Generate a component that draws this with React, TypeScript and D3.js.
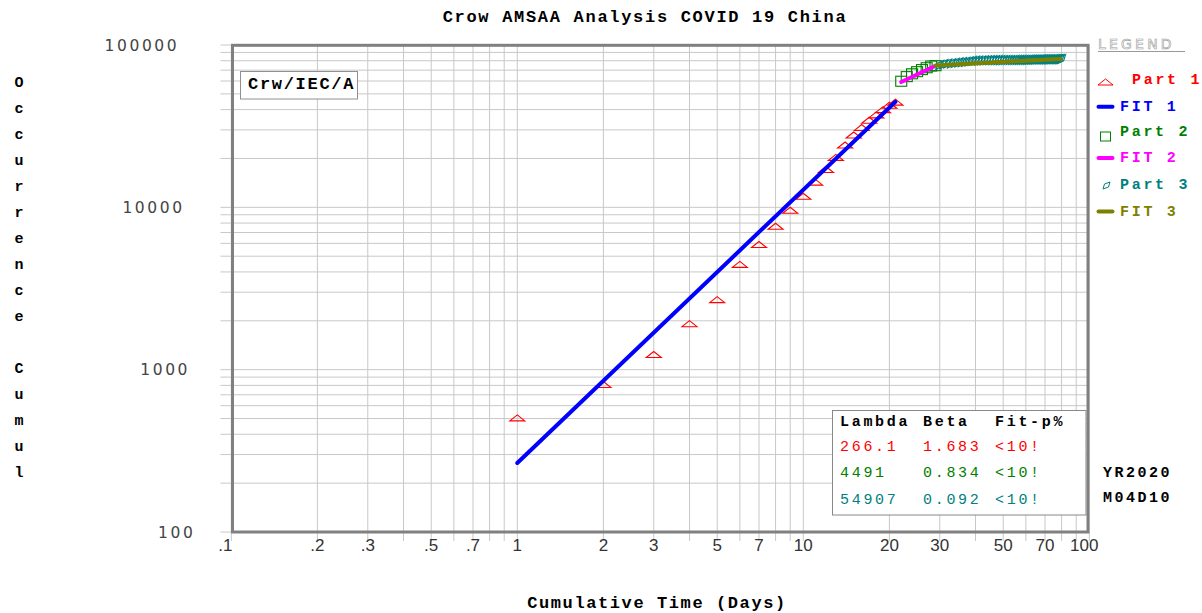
import React from "react";
import * as d3 from "d3";

// ---------- data ----------
const part1Days = [1, 2, 3, 4, 5, 6, 7, 8, 9, 10, 11, 12, 13, 14, 15, 16, 17, 18, 19, 20, 21];
const part1Values = [505, 810, 1240, 1920, 2700, 4450, 5900, 7650, 9600, 11700, 14300, 17100, 20300, 24200, 27900, 31000, 34400, 37100, 40000, 42500, 44500];

const part2Days = [22, 23, 24, 25, 26, 27, 28, 29];
const part2Values = [59800, 63850, 66490, 68500, 70550, 72440, 74190, 74580];

const part3Days = [
  30, 31, 32, 33, 34, 35, 36, 37, 38, 39, 40, 41, 42, 43, 44, 45, 46, 47, 48, 49,
  50, 51, 52, 53, 54, 55, 56, 57, 58, 59, 60, 61, 62, 63, 64, 65, 66, 67, 68, 69,
  70, 71, 72, 73, 74, 75, 76, 77, 78, 79, 80,
];
const part3Values = [
  75470, 76290, 76940, 77150, 77660, 78060, 78500, 78820, 79250, 79820,
  80030, 80150, 80270, 80410, 80550, 80650, 80700, 80740, 80750, 80780,
  80790, 80810, 80820, 80840, 80860, 80880, 80890, 80930, 80970, 81010,
  81050, 81090, 81170, 81220, 81290, 81340, 81390, 81440, 81470, 81520,
  81550, 81590, 81620, 81640, 81670, 81710, 81740, 81800, 81870, 81910, 81950,
];

// Crow-AMSAA fit parameters (from the table) and fitted ranges
const fitNames = ["FIT 1", "FIT 2", "FIT 3"];
const fitLambda = [266.1, 4491, 54907];
const fitBeta = [1.683, 0.834, 0.092];
const fitStart = [1, 22, 29];
const fitEnd = [21, 29, 79.5];
const fitPct = ["<10!", "<10!", "<10!"];
const lambdaLabels = ["266.1", "4491", "54907"];
const betaLabels = ["1.683", "0.834", "0.092"];

const xTickValues = [0.1, 0.2, 0.3, 0.5, 0.7, 1, 2, 3, 5, 7, 10, 20, 30, 50, 70, 100];
const xTickLabels = [".1", ".2", ".3", ".5", ".7", "1", "2", "3", "5", "7", "10", "20", "30", "50", "70", "100"];
const yTickValues = [100, 1000, 10000, 100000];
const yTickLabels = ["100", "1000", "10000", "100000"];

const title = "Crow AMSAA Analysis COVID 19 China";
const xTitle = "Cumulative Time (Days)";
const yTitle = "Occurrence Cumul";

// ---------- styling ----------
const RED = "#ff0000";
const BLUE = "#0000ff";
const GREEN = "#008000";
const MAGENTA = "#ff00ff";
const TEAL = "#008080";
const OLIVE = "#808000";
const MONO = "'Liberation Mono', 'DejaVu Sans Mono', monospace";

const L = 232.5, R = 1088, T = 45.3, B = 532;

export default function App() {
  const x = d3.scaleLog().domain([0.1, 100]).range([231.3, 1089.3]);
  const y = d3.scaleLog().domain([100, 100000]).range([532, 45]);

  const xGrid: number[] = [];
  [0.1, 1, 10].forEach((d) => d3.range(1, 10).forEach((k) => xGrid.push(d * k)));
  xGrid.push(100);
  const yGrid: number[] = [];
  [100, 1000, 10000].forEach((d) => d3.range(1, 10).forEach((k) => yGrid.push(d * k)));
  yGrid.push(100000);

  const line = d3.line<[number, number]>().x((d) => x(d[0])).y((d) => y(d[1]));
  const fitColors = [BLUE, MAGENTA, OLIVE];
  const fits = fitNames.map((_, i) => {
    const pts: [number, number][] = [fitStart[i], fitEnd[i]].map((t) => [t, fitLambda[i] * Math.pow(t, fitBeta[i])]);
    return line(pts) as string;
  });

  const triPath = "M-7.5,3 L0,-3 L7.5,3 Z";
  const diaPath = "M-4,4.5 L-2,-1.8 L4,-4.5 L2,1.8 Z";
  const diaLegend = "M-3.5,3.5 L-2,-1.5 L3.5,-3.5 L2,1.5 Z";

  const legendItems = [
    { label: "Part 1", color: RED, kind: "tri", yc: 79, tx: 1132 },
    { label: "FIT 1", color: BLUE, kind: "line", yc: 105.7, tx: 1120 },
    { label: "Part 2", color: GREEN, kind: "sq", yc: 131, tx: 1120 },
    { label: "FIT 2", color: MAGENTA, kind: "line", yc: 157, tx: 1120 },
    { label: "Part 3", color: TEAL, kind: "dia", yc: 184, tx: 1120 },
    { label: "FIT 3", color: OLIVE, kind: "line", yc: 210.5, tx: 1120 },
  ];
  const rowColors = [RED, GREEN, TEAL];

  return (
    <svg
      width={1202}
      height={613}
      style={{ position: "absolute", left: 0, top: 0, background: "#fff" }}
    >
      <rect x={0} y={0} width={1202} height={613} fill="#fff" />

      {/* grid + outside ticks */}
      <g stroke="#c8c8c8" strokeWidth={1}>
        {xGrid.map((v, i) => (
          <line key={"xg" + i} x1={x(v)} x2={x(v)} y1={T} y2={B + 9} />
        ))}
        {yGrid.map((v, i) => (
          <line key={"yg" + i} x1={L - 12} x2={R} y1={y(v)} y2={y(v)} />
        ))}
      </g>

      {/* plot border */}
      <rect x={L} y={T} width={R - L} height={B - T} fill="none" stroke="#808080" strokeWidth={3} />

      {/* Crw/IEC/A box */}
      <rect x={240.5} y={71.5} width={117} height={27.5} fill="#fff" stroke="#909090" strokeWidth={1} />
      <text x={248} y={89} fontFamily={MONO} fontWeight="bold" fontSize={17} letterSpacing={1.7} fill="#000">
        Crw/IEC/A
      </text>

      {/* Part 1 triangles */}
      <g fill="none" stroke={RED} strokeWidth={1.1}>
        {part1Days.map((d, i) => (
          <path key={"p1" + i} d={triPath} transform={`translate(${x(d)},${y(part1Values[i])})`} />
        ))}
      </g>
      {/* Part 2 squares */}
      <g fill="none" stroke={GREEN} strokeWidth={1.1}>
        {part2Days.map((d, i) => (
          <rect key={"p2" + i} x={x(d) - 5.5} y={y(part2Values[i]) - 5} width={11} height={10} />
        ))}
      </g>
      {/* Part 3 markers */}
      <g fill="none" stroke={TEAL} strokeWidth={1.2}>
        {part3Days.map((d, i) => (
          <path key={"p3" + i} d={diaPath} transform={`translate(${x(d)},${y(part3Values[i])})`} />
        ))}
      </g>

      {/* fit lines */}
      {fits.map((p, i) => (
        <path key={"fit" + i} d={p} fill="none" stroke={fitColors[i]} strokeWidth={4} strokeLinecap="round" />
      ))}

      {/* stats box */}
      <rect x={832.5} y={410.5} width={253.5} height={104.5} fill="#fff" stroke="#888" strokeWidth={1} />
      <g fontFamily={MONO} fontSize={15} letterSpacing={2.7}>
        <text x={840} y={425.5} fontWeight="bold" fill="#000">Lambda</text>
        <text x={923} y={425.5} fontWeight="bold" fill="#000">Beta</text>
        <text x={995} y={425.5} fontWeight="bold" fill="#000">Fit-p%</text>
        {lambdaLabels.map((lab, i) => (
          <g key={"row" + i} fill={rowColors[i]}>
            <text x={840} y={450.5 + i * 26.5}>{lab}</text>
            <text x={923} y={450.5 + i * 26.5}>{betaLabels[i]}</text>
            <text x={995} y={450.5 + i * 26.5}>{fitPct[i]}</text>
          </g>
        ))}
      </g>

      {/* title */}
      <text x={645} y={22} textAnchor="middle" fontFamily={MONO} fontWeight="bold" fontSize={17} letterSpacing={1.7} fill="#000">
        {title}
      </text>

      {/* x axis title */}
      <text x={657} y={608} textAnchor="middle" fontFamily={MONO} fontWeight="bold" fontSize={17} letterSpacing={1.6} fill="#000">
        {xTitle}
      </text>

      {/* y axis title (stacked letters) */}
      <g fontFamily={MONO} fontWeight="bold" fontSize={15} fill="#000" textAnchor="middle">
        {yTitle.split("").map((c, i) => (
          <text key={"yt" + i} x={19} y={86.6 + i * 26}>{c}</text>
        ))}
      </g>

      {/* x tick labels */}
      <g fontFamily="'Liberation Sans', Arial, sans-serif" fontSize={17} fill="#333" textAnchor="middle">
        {xTickValues.map((v, i) => {
          let cx = x(v);
          if (v === 0.1) cx -= 6;
          if (v === 100) cx -= 5;
          return (
            <text key={"xt" + i} x={cx} y={551}>{xTickLabels[i]}</text>
          );
        })}
      </g>

      {/* y tick labels */}
      <g fontFamily="'DejaVu Sans', sans-serif" fontSize={15.5} fill="#444" textAnchor="end" letterSpacing={2.6}>
        {yTickValues.map((v, i) => (
          <text key={"ytk" + i} x={195.5 - 5.4 * (Math.log10(v) - 2)} y={y(v) + 5.8}>
            {yTickLabels[i]}
          </text>
        ))}
      </g>

      {/* legend */}
      <text x={1098} y={48.5} fontFamily="'DejaVu Sans', sans-serif" fontSize={14} fill="none" stroke="#999" strokeWidth={0.6} letterSpacing={3.2}>
        LEGEND
      </text>
      <line x1={1098} x2={1185} y1={51.5} y2={51.5} stroke="#999" strokeWidth={1} />
      {legendItems.map((it, i) => (
        <g key={"lg" + i}>
          {it.kind === "tri" && (
            <path d={triPath} transform={`translate(1105.5,${it.yc + 3})`} fill="none" stroke={it.color} strokeWidth={1} />
          )}
          {it.kind === "sq" && (
            <rect x={1100.5} y={it.yc + 1} width={10} height={9} fill="none" stroke={it.color} strokeWidth={1} />
          )}
          {it.kind === "dia" && (
            <path d={diaLegend} transform={`translate(1106.5,${it.yc + 1.5})`} fill="none" stroke={it.color} strokeWidth={1} />
          )}
          {it.kind === "line" && (
            <line x1={1098.5} x2={1112.5} y1={it.yc + 1} y2={it.yc + 1} stroke={it.color} strokeWidth={4} strokeLinecap="round" />
          )}
          <text x={it.tx} y={it.yc + 5.2} fontFamily={MONO} fontWeight="bold" fontSize={15} letterSpacing={2.7} fill={it.color}>
            {it.label}
          </text>
        </g>
      ))}

      {/* date stamp */}
      <g fontFamily={MONO} fontWeight="bold" fontSize={15} letterSpacing={2.5} fill="#000">
        <text x={1103} y={477}>YR2020</text>
        <text x={1103} y={502}>M04D10</text>
      </g>
    </svg>
  );
}
